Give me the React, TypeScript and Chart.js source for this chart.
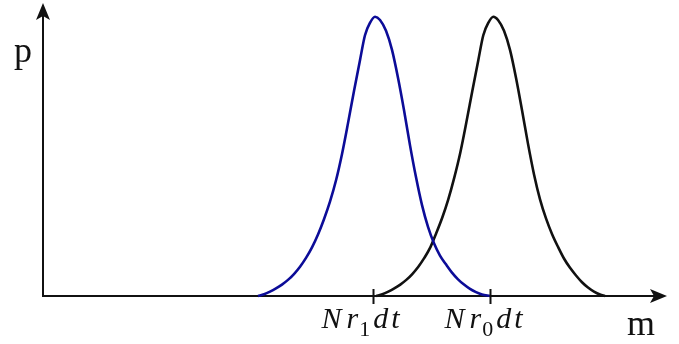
import React, { useEffect, useRef } from "react";
import { Chart, registerables } from "chart.js";

Chart.register(...registerables);

// m-axis positions (0..100) and p values (0..1)
const blueX = [34.46, 35.42, 36.38, 37.34, 38.3, 39.26, 40.22, 41.19, 42.15, 43.11, 44.07, 45.03, 45.99, 46.96, 47.92, 48.88, 49.84, 50.8, 51.6, 52.4, 53.21,
  54.01, 54.97, 55.93, 56.89, 57.85, 58.81, 59.78, 60.74, 61.7, 62.66, 63.62, 64.58, 65.54, 66.51, 67.47, 68.43, 69.39, 70.35, 71.63];
const blueY = [0, 0.006, 0.015, 0.026, 0.039, 0.055, 0.075, 0.1, 0.13, 0.166, 0.21, 0.262, 0.322, 0.395, 0.485, 0.59, 0.7, 0.805, 0.89, 0.932, 0.953,
  0.942, 0.905, 0.84, 0.745, 0.635, 0.515, 0.405, 0.31, 0.236, 0.18, 0.138, 0.108, 0.08, 0.057, 0.039, 0.024, 0.013, 0.005, 0];

const blackX = [53.42, 54.38, 55.34, 56.3, 57.26, 58.22, 59.18, 60.15, 61.11, 62.07, 63.03, 63.99, 64.95, 65.92, 66.88, 67.84, 68.8, 69.76, 70.56, 71.36, 72.17,
  72.92, 73.88, 74.84, 75.8, 76.76, 77.72, 78.69, 79.65, 80.61, 81.57, 82.53, 83.49, 84.46, 85.42, 86.38, 87.34, 88.3, 89.26, 90.06];
const blackY = [0, 0.006, 0.015, 0.026, 0.039, 0.055, 0.075, 0.1, 0.13, 0.166, 0.215, 0.268, 0.33, 0.405, 0.49, 0.592, 0.7, 0.805, 0.89, 0.932, 0.953,
  0.942, 0.905, 0.84, 0.745, 0.635, 0.52, 0.415, 0.33, 0.265, 0.212, 0.168, 0.128, 0.096, 0.07, 0.047, 0.029, 0.015, 0.005, 0];

const tickValues = [52.9, 71.7];
const tickLabels = ["Nr_1dt", "Nr_0dt"];
const xTitle = "m";
const yTitle = "p";

const X_MIN = 0;
const X_MAX = 100;
const Y_MIN = 0;
const Y_MAX = 1;

const INK = "#111111";
const BLUE = "#0c0c98";
const FAMILY = "'Liberation Serif'";
const MAIN_FONT = `italic 30px ${FAMILY}`;
const SUB_FONT = `22px ${FAMILY}`;
const TITLE_FONT = `36px ${FAMILY}`;

const axesPlugin = {
  id: "arrowAxes",
  beforeDatasetsDraw(chart: any) {
    const { ctx, scales } = chart;
    const xs = scales.x;
    const ys = scales.y;
    const x0 = xs.getPixelForValue(X_MIN);
    const y0 = ys.getPixelForValue(Y_MIN);
    const xEnd = xs.getPixelForValue(X_MAX);
    const yEnd = ys.getPixelForValue(Y_MAX);
    ctx.save();
    ctx.strokeStyle = INK;
    ctx.fillStyle = INK;
    ctx.lineWidth = 2;
    ctx.beginPath();
    ctx.moveTo(x0, y0);
    ctx.lineTo(xEnd - 10, y0);
    ctx.moveTo(x0, y0 + 1);
    ctx.lineTo(x0, yEnd + 10);
    ctx.stroke();
    ctx.beginPath();
    ctx.moveTo(xEnd, y0);
    ctx.lineTo(xEnd - 17, y0 - 7);
    ctx.lineTo(xEnd - 13, y0);
    ctx.lineTo(xEnd - 17, y0 + 7);
    ctx.closePath();
    ctx.fill();
    ctx.beginPath();
    ctx.moveTo(x0, yEnd);
    ctx.lineTo(x0 - 7, yEnd + 17);
    ctx.lineTo(x0, yEnd + 13);
    ctx.lineTo(x0 + 7, yEnd + 17);
    ctx.closePath();
    ctx.fill();
    ctx.restore();
  },
  afterDatasetsDraw(chart: any) {
    const { ctx, scales } = chart;
    const xs = scales.x;
    const ys = scales.y;
    const y0 = ys.getPixelForValue(Y_MIN);
    ctx.save();
    ctx.strokeStyle = INK;
    ctx.fillStyle = INK;
    ctx.lineWidth = 2;
    const labelLeft = [-52, -46];
    tickValues.forEach((v, i) => {
      const px = Math.round(xs.getPixelForValue(v)) + 0.5;
      ctx.beginPath();
      ctx.moveTo(px, y0 - 7);
      ctx.lineTo(px, y0 + 8);
      ctx.stroke();
      const [main, rest] = tickLabels[i].split("_");
      const sub = rest.charAt(0);
      const tail = rest.split("").slice(1);
      const base = y0 + 32;
      ctx.textBaseline = "alphabetic";
      ctx.textAlign = "left";
      let cx = px + labelLeft[i];
      ctx.font = MAIN_FONT;
      const chars = main.split("");
      chars.forEach((c, k) => {
        ctx.fillText(c, cx, base);
        cx += ctx.measureText(c).width + (k < chars.length - 1 ? 5 : 1);
      });
      ctx.font = SUB_FONT;
      ctx.fillText(sub, cx, base + 8);
      cx += ctx.measureText(sub).width + 3;
      ctx.font = MAIN_FONT;
      tail.forEach((c) => {
        ctx.fillText(c, cx, base);
        cx += ctx.measureText(c).width + 3;
      });
    });
    ctx.font = TITLE_FONT;
    ctx.textAlign = "center";
    ctx.textBaseline = "alphabetic";
    ctx.fillText(xTitle, xs.getPixelForValue(X_MAX) - 26, y0 + 39);
    ctx.fillText(yTitle, xs.getPixelForValue(X_MIN) - 20, ys.getPixelForValue(Y_MAX) + 59);
    ctx.restore();
  },
};

export default function App() {
  const ref = useRef<HTMLCanvasElement | null>(null);
  useEffect(() => {
    if (!ref.current) return;
    const mk = (xs: number[], ys: number[], color: string) => ({
      data: xs.map((x, i) => ({ x, y: ys[i] })),
      borderColor: color,
      borderWidth: 2.6,
      pointRadius: 0,
      fill: false,
      cubicInterpolationMode: "monotone" as const,
      clip: false as any,
    });
    const chart = new Chart(ref.current, {
      type: "line",
      data: {
        datasets: [mk(blueX, blueY, BLUE), mk(blackX, blackY, INK)],
      },
      options: {
        animation: false,
        responsive: false,
        maintainAspectRatio: false,
        layout: { padding: { left: 43, right: 12, top: 3, bottom: 48 } },
        scales: {
          x: { type: "linear", min: X_MIN, max: X_MAX, display: false },
          y: { type: "linear", min: Y_MIN, max: Y_MAX, display: false },
        },
        plugins: {
          legend: { display: false },
          tooltip: { enabled: false },
        },
      },
      plugins: [axesPlugin],
    });
    let alive = true;
    const fonts: any = (document as any).fonts;
    if (fonts && fonts.load) {
      Promise.all([fonts.load(MAIN_FONT), fonts.load(SUB_FONT), fonts.load(TITLE_FONT)])
        .then(() => {
          if (alive) chart.draw();
        })
        .catch(() => {});
    }
    return () => {
      alive = false;
      chart.destroy();
    };
  }, []);
  return (
    <div style={{ position: "absolute", left: 0, top: 0, width: 679, height: 344, background: "#fff" }}>
      <canvas ref={ref} width={679} height={344} style={{ display: "block" }} />
    </div>
  );
}
